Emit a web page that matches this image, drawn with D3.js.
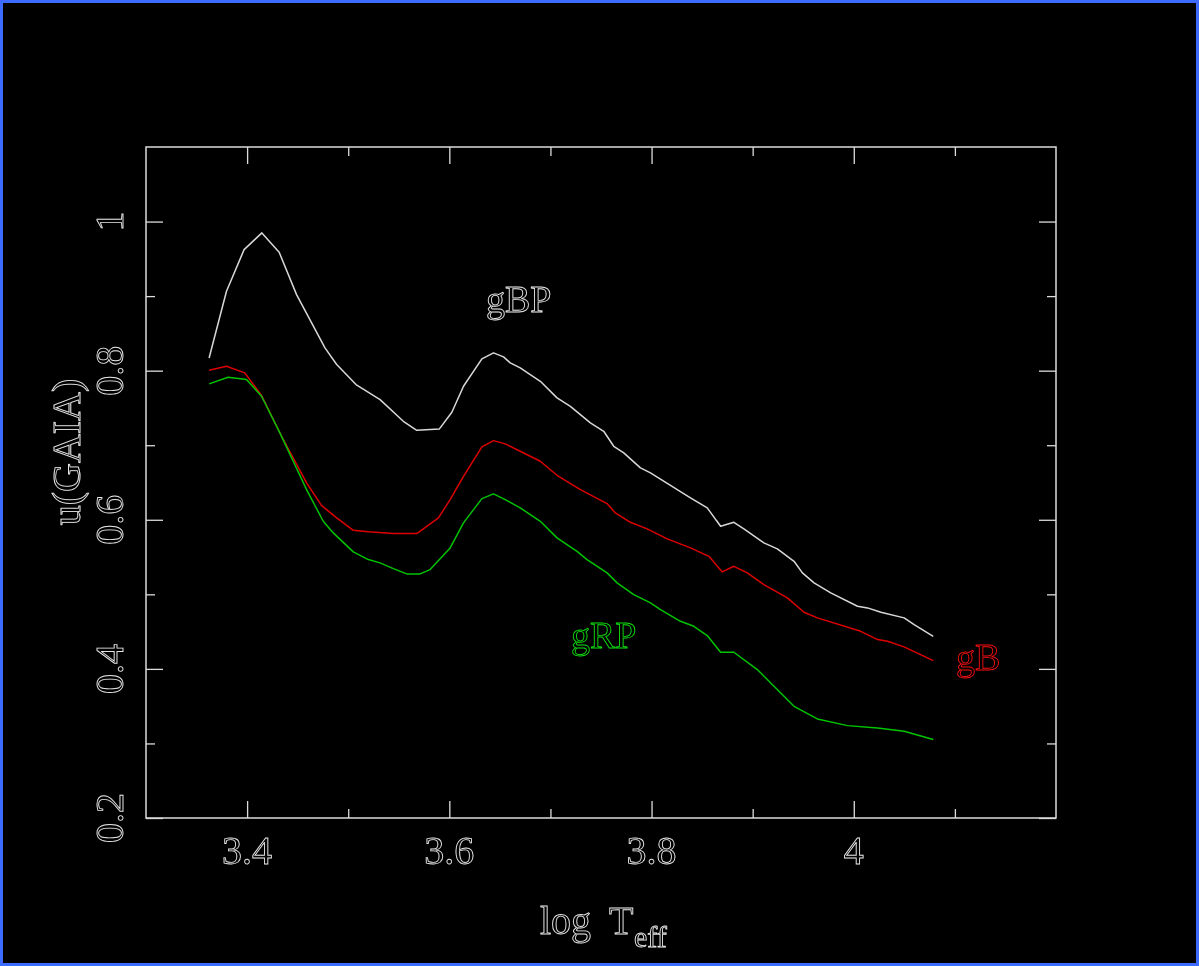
<!DOCTYPE html>
<html>
<head>
<meta charset="utf-8">
<script src="https://cdn.jsdelivr.net/npm/d3@7/dist/d3.min.js"></script>
<style>
html,body{margin:0;padding:0;background:#000;}
svg{display:block;}
text{font-family:"Liberation Serif","DejaVu Serif",serif;}
.lbl{opacity:0.995;}
</style>
</head>
<body>
<svg id="chart" width="1199" height="966"></svg>
<script>
// ---- data ----
const xMajorTicks = [3.4, 3.6, 3.8, 4.0];
const xMinorTicks = [3.5, 3.7, 3.9, 4.1];
const xTickLabels = ["3.4", "3.6", "3.8", "4"];
const yMajorTicks = [0.2, 0.4, 0.6, 0.8, 1.0];
const yMinorTicks = [0.3, 0.5, 0.7, 0.9];
const yTickLabels = ["0.2", "0.4", "0.6", "0.8", "1"];

const logT_gBP = [3.3624,3.3796,3.397,3.4146,3.4317,3.4489,3.477,3.4886,3.5077,3.5315,3.5545,3.5678,3.5902,3.6025,3.614,3.6322,3.6437,3.6536,3.6602,3.6701,3.69,3.7065,3.7197,3.7395,3.7527,3.7626,3.7725,3.789,3.7989,3.8254,3.8385,3.8551,3.8683,3.8814,3.8913,3.9111,3.9244,3.9409,3.9492,3.9607,3.9772,4.0037,4.0136,4.0268,4.0498,4.0597,4.0786];
const u_gBP = [0.817,0.9065,0.9624,0.9848,0.9588,0.902,0.8306,0.8082,0.7814,0.7612,0.7321,0.72,0.7219,0.7442,0.7791,0.8158,0.8239,0.8185,0.8105,0.8038,0.7858,0.7635,0.7522,0.73,0.7187,0.6986,0.6897,0.6696,0.6629,0.6405,0.6294,0.616,0.5913,0.5966,0.5878,0.569,0.561,0.5443,0.5288,0.5154,0.502,0.484,0.4818,0.4759,0.4684,0.4594,0.4437];

const logT_gB = [3.3624,3.3796,3.3977,3.4143,3.4341,3.4588,3.4737,3.4886,3.505,3.5199,3.5446,3.5678,3.5892,3.6008,3.614,3.6322,3.6437,3.6553,3.6701,3.69,3.7065,3.7296,3.756,3.7642,3.7791,3.7956,3.8155,3.8385,3.8567,3.8699,3.8814,3.8947,3.9111,3.9343,3.9508,3.964,4.0069,4.0235,4.0334,4.0498,4.0786];
const u_gB = [0.8005,0.8059,0.797,0.7666,0.712,0.6495,0.619,0.6026,0.5859,0.5838,0.5815,0.5815,0.6026,0.6271,0.6583,0.6978,0.7062,0.7018,0.6919,0.6785,0.6597,0.6405,0.6217,0.6092,0.5966,0.5878,0.5744,0.5623,0.551,0.5301,0.5376,0.5288,0.5131,0.4952,0.4759,0.4684,0.4504,0.4393,0.437,0.4295,0.4111];

const logT_gRP = [3.3624,3.3812,3.3994,3.4143,3.4324,3.4588,3.4753,3.4852,3.505,3.5199,3.5315,3.5446,3.5579,3.5711,3.581,3.5909,3.6008,3.614,3.6322,3.6437,3.6553,3.6701,3.69,3.7065,3.7263,3.7362,3.756,3.7659,3.7824,3.7989,3.8088,3.8286,3.8418,3.8551,3.8683,3.8814,3.9046,3.9211,3.9409,3.964,3.9938,4.0235,4.0498,4.0786];
const u_gRP = [0.7823,0.7911,0.7881,0.7657,0.7166,0.6405,0.598,0.5824,0.5569,0.5466,0.5422,0.5345,0.5274,0.5274,0.5332,0.5476,0.5623,0.5958,0.6284,0.6347,0.6271,0.616,0.598,0.5757,0.5577,0.5466,0.5288,0.5154,0.4997,0.4885,0.4795,0.4638,0.4571,0.4447,0.4223,0.4223,0.3991,0.3767,0.3498,0.3329,0.3239,0.3208,0.3163,0.3052];

const seriesNames = ["gBP", "gB", "gRP"];
const xLabelParts = ["log", "T", "eff"];
const yLabel = "u(GAIA)";

// ---- layout ----
const W = 1199, H = 966;
const L = 146, R = 1056, T = 147, B = 818;
const x = d3.scaleLinear().domain([3.3, 4.2]).range([L, R]);
const y = d3.scaleLinear().domain([0.2, 1.1]).range([B, T]);
const frameColor = "#dcdcdc";

const svg = d3.select("#chart");
svg.append("rect").attr("x",0).attr("y",0).attr("width",W).attr("height",H).attr("fill","#000");
svg.append("rect").attr("x",1.5).attr("y",1.5).attr("width",W-3).attr("height",H-3)
  .attr("fill","none").attr("stroke","#3d6bff").attr("stroke-width",3);

// axes (ticks only, inward)
function addAxis(axis, tx, ty, ticks, size) {
  const g = svg.append("g").attr("transform", `translate(${tx},${ty})`)
    .call(axis.tickValues(ticks).tickSize(size).tickFormat(""));
  g.select(".domain").remove();
  g.selectAll("line").attr("stroke", frameColor).attr("stroke-width", 1.3);
}
addAxis(d3.axisBottom(x), 0, B, xMajorTicks, -17);
addAxis(d3.axisBottom(x), 0, B, xMinorTicks, -9);
addAxis(d3.axisTop(x), 0, T, xMajorTicks, -17);
addAxis(d3.axisTop(x), 0, T, xMinorTicks, -9);
addAxis(d3.axisLeft(y), L, 0, yMajorTicks, -17);
addAxis(d3.axisLeft(y), L, 0, yMinorTicks, -9);
addAxis(d3.axisRight(y), R, 0, yMajorTicks, -17);
addAxis(d3.axisRight(y), R, 0, yMinorTicks, -9);

svg.append("rect").attr("x",L).attr("y",T).attr("width",R-L).attr("height",B-T)
  .attr("fill","none").attr("stroke",frameColor).attr("stroke-width",1.5);

// text drawn as outlined glyphs
const labels = svg.append("g").attr("class","lbl");
function outline(sel, color) {
  return sel.attr("fill","none").attr("stroke",color).attr("stroke-width",0.9);
}
xMajorTicks.forEach((v,i) => {
  outline(labels.append("text"), "#e8e8e8")
    .attr("x", x(v)).attr("y", 864).attr("text-anchor","middle")
    .attr("font-size", 40).text(xTickLabels[i]);
});
yMajorTicks.forEach((v,i) => {
  outline(labels.append("text"), "#e8e8e8")
    .attr("transform", `translate(123,${y(v)}) rotate(-90)`)
    .attr("text-anchor","middle").attr("font-size", 40).text(yTickLabels[i]);
});

// axis titles
outline(labels.append("text"), "#e8e8e8").attr("x", 540).attr("y", 934).attr("font-size", 40).text(xLabelParts[0]);
outline(labels.append("text"), "#e8e8e8").attr("x", 609).attr("y", 934).attr("font-size", 40).text(xLabelParts[1]);
outline(labels.append("text"), "#e8e8e8").attr("x", 634).attr("y", 947).attr("font-size", 30).text(xLabelParts[2]);

outline(labels.append("text"), "#e8e8e8")
  .attr("transform", `translate(80,452) rotate(-90)`)
  .attr("text-anchor","middle").attr("font-size", 40).text(yLabel);

// curves
const line = d3.line().x(d => x(d[0])).y(d => y(d[1]));
const series = [
  {name: seriesNames[0], xs: logT_gBP, ys: u_gBP, color: "#d8d8d8", lx: 486, ly: 312, lc: "#e8e8e8"},
  {name: seriesNames[1], xs: logT_gB, ys: u_gB, color: "#dd0000", lx: 956, ly: 670, lc: "#ff1010"},
  {name: seriesNames[2], xs: logT_gRP, ys: u_gRP, color: "#00c400", lx: 571, ly: 648, lc: "#10e010"}
];
series.forEach(s => {
  svg.append("path").datum(d3.zip(s.xs, s.ys)).attr("d", line)
    .attr("fill","none").attr("stroke", s.color).attr("stroke-width", 1.5)
    .attr("stroke-linejoin","round");
});
series.forEach(s => {
  outline(labels.append("text"), s.lc).attr("x", s.lx).attr("y", s.ly)
    .attr("font-size", 38).text(s.name);
});
</script>
</body>
</html>
